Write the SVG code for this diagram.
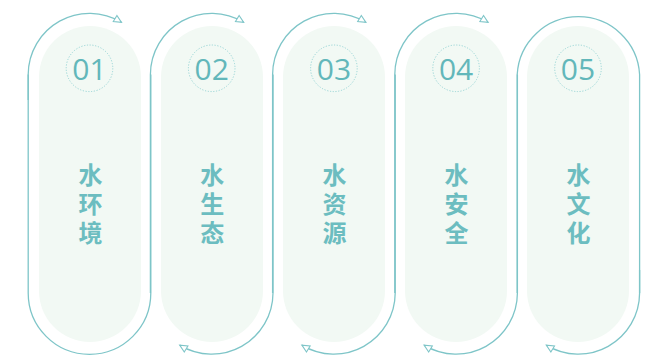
<svg xmlns="http://www.w3.org/2000/svg" width="659" height="357" viewBox="0 0 659 357">
<style>
.pill{fill:#f2f9f4}
.ring{fill:none;stroke:#8fd0d1;stroke-width:0.9;stroke-dasharray:1.2 1.6}
.num{font-family:"Open Sans","Noto Sans",sans-serif;font-size:30px;fill:#62b7ba;text-anchor:middle}
.lbl{font-family:"Noto Sans CJK SC",sans-serif;font-size:24px;font-weight:bold;fill:#6cbdc0;writing-mode:vertical-rl;text-orientation:upright;letter-spacing:5px}
.out{fill:none;stroke:#7ec5c8;stroke-width:1.3}
.arr{fill:none;stroke:#7ec5c8;stroke-width:1.3;marker-end:url(#ah)}
</style>
<defs>
<marker id="ah" markerUnits="userSpaceOnUse" markerWidth="12" markerHeight="12" refX="8" refY="4" orient="auto" overflow="visible">
<path d="M0.5,0.5 L8,4 L0.5,7.5 Z" fill="#fff" stroke="#7ec5c8" stroke-width="1.1"/>
</marker>
</defs>
<rect width="659" height="357" fill="#fff"/>
<g id="nodes">
<g id="item1">
<rect class="pill" x="39" y="26" width="102" height="316" rx="51"/>
<circle class="ring" cx="89.5" cy="68.3" r="23.3"/>
<text class="num" x="89.5" y="80">01</text>
<text class="lbl" x="90.5" y="163">水环境</text>
</g>
<g id="item2">
<rect class="pill" x="161" y="26" width="102" height="316" rx="51"/>
<circle class="ring" cx="211.7" cy="68.3" r="23.3"/>
<text class="num" x="211.7" y="80">02</text>
<text class="lbl" x="212.2" y="163">水生态</text>
</g>
<g id="item3">
<rect class="pill" x="283" y="26" width="102" height="316" rx="51"/>
<circle class="ring" cx="333.9" cy="68.3" r="23.3"/>
<text class="num" x="333.9" y="80">03</text>
<text class="lbl" x="334.4" y="163">水资源</text>
</g>
<g id="item4">
<rect class="pill" x="405" y="26" width="102" height="316" rx="51"/>
<circle class="ring" cx="456.1" cy="68.3" r="23.3"/>
<text class="num" x="456.1" y="80">04</text>
<text class="lbl" x="456.6" y="163">水安全</text>
</g>
<g id="item5">
<rect class="pill" x="527" y="26" width="102" height="316" rx="51"/>
<circle class="ring" cx="578" cy="68.3" r="23.3"/>
<text class="num" x="578" y="80">05</text>
<text class="lbl" x="578.5" y="163">水文化</text>
</g>
</g>
<g id="connectors">
<path class="out" d="M28.2,74.5 L28.2,293 A61.3,61.3 0 0 0 150.8,293 L150.8,74.5"/>
<path class="arr" d="M28.2,100 L28.2,74.5 A61.3,61.3 0 0 1 121.5,22.4"/>
<path class="arr" d="M150.4,293 L150.4,74.5 A61.3,61.3 0 0 1 243.7,22.4"/>
<path class="arr" d="M273,74.5 L273,293 A61.3,61.3 0 0 1 179.7,345.1"/>
<path class="arr" d="M272.6,293 L272.6,74.5 A61.3,61.3 0 0 1 365.9,22.4"/>
<path class="arr" d="M395.2,74.5 L395.2,293 A61.3,61.3 0 0 1 301.9,345.1"/>
<path class="arr" d="M394.8,293 L394.8,74.5 A61.3,61.3 0 0 1 488.1,22.4"/>
<path class="arr" d="M517.4,74.5 L517.4,293 A61.3,61.3 0 0 1 424.1,345.1"/>
<path class="out" d="M517.2,293 L517.2,74.5 A61.3,61.3 0 0 1 639.6,74.5 L639.6,293"/>
<path class="arr" d="M639.6,270 L639.6,293 A61.3,61.3 0 0 1 546.3,345.1"/>
</g>
</svg>
